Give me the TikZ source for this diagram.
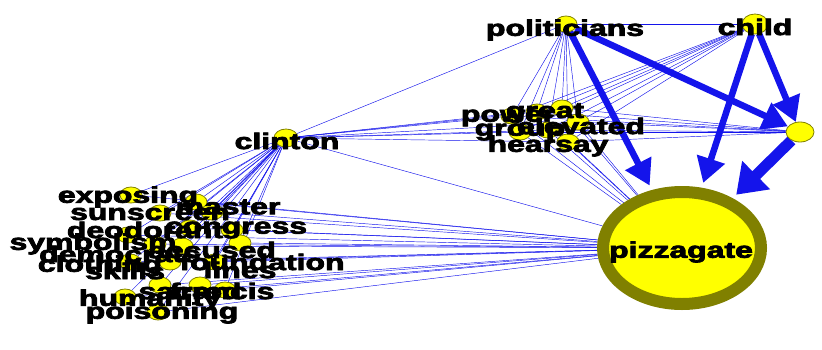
\documentclass[tikz,border=0pt]{standalone}
\usepackage{fontspec}
\setmainfont{Liberation Sans}
\newfontfamily\heavyfont{Liberation Sans Bold}[FakeBold=3]
\usetikzlibrary{shapes.geometric,arrows.meta,backgrounds}
\definecolor{edgeblue}{RGB}{20,20,235}
\definecolor{nodeyel}{RGB}{255,255,0}
\definecolor{nodeolive}{RGB}{128,128,0}
\newcommand{\hs}[1]{\scalebox{1.42}[1]{#1}}
\tikzset{
  vert/.style={ellipse,draw=nodeolive,fill=nodeyel,line width=0.8pt,minimum width=22pt,minimum height=16pt,inner sep=0pt},
  lbl/.style={font=\heavyfont\fontsize{22.5}{22.5}\selectfont,inner sep=0pt,text=black},
  fine/.style={draw=edgeblue,line width=0.45pt},
  heavy/.style={draw=edgeblue,line width=6.5pt,-{Triangle[length=25pt,width=28pt]}},
  huge/.style={draw=edgeblue,line width=11pt,-{Triangle[length=28pt,width=38pt]}}
}
\begin{document}
\begin{tikzpicture}[x=1pt,y=-1pt]
\useasboundingbox (0,0) rectangle (822,349);
% main nodes
\node[ellipse,draw=nodeolive,fill=nodeyel,line width=12pt,minimum width=158pt,minimum height=112pt,inner sep=0pt] (pizza) at (682,248) {};
\node[vert] (pol) at (566,24) {};
\node[vert,minimum width=26pt,minimum height=20pt] (child) at (755,24) {};
\node[vert,minimum width=28pt,minimum height=20pt] (u) at (800,132) {};
\node[vert,minimum width=24pt,minimum height=18pt] (clinton) at (286,138) {};
% middle cluster
\node[vert] (M1) at (512,116) {};
\node[vert] (M2) at (537,112) {};
\node[vert] (M3) at (562,108) {};
\node[vert] (M4) at (578,122) {};
\node[vert] (M5) at (548,130) {};
\node[vert] (M6) at (520,132) {};
\node[vert] (M7) at (568,142) {};
% left cluster
\node[vert] (L1) at (131,195) {};
\node[vert] (L2) at (196,202) {};
\node[vert] (L3) at (160,213) {};
\node[vert] (L4) at (212,212) {};
\node[vert] (L5) at (190,228) {};
\node[vert] (L6) at (232,230) {};
\node[vert] (L7) at (128,235) {};
\node[vert] (L8) at (155,244) {};
\node[vert] (L9) at (182,246) {};
\node[vert] (L10) at (240,243) {};
\node[vert] (L11) at (130,262) {};
\node[vert] (L12) at (170,262) {};
\node[vert] (L13) at (215,262) {};
\node[vert] (L14) at (160,285) {};
\node[vert] (L15) at (225,290) {};
\node[vert] (L16) at (125,297) {};
\node[vert] (L17) at (158,312) {};
\node[vert] (L18) at (200,285) {};
% edges
\begin{scope}[on background layer]
  \foreach \i in {1,...,18} {
    \draw[fine] (clinton) -- (L\i);
    \draw[fine] (L\i) -- (pizza);
  }
  \foreach \i in {1,...,7} {
    \draw[fine] (clinton) -- (M\i);
    \draw[fine] (pol) -- (M\i);
    \draw[fine] (child) -- (M\i);
    \draw[fine] (M\i) -- (u);
    \draw[fine] (M\i) -- (pizza);
  }
  \draw[fine] (clinton) -- (pol);
  \draw[fine] (pol) -- (child);
  \draw[fine] (clinton) -- (pizza);
  \draw[heavy,shorten >=5pt] (pol) -- (pizza);
  \draw[heavy] (pol) -- (u);
  \draw[heavy,shorten >=5pt] (child) -- (pizza);
  \draw[heavy] (child) -- (u);
  \draw[huge,shorten >=5pt] (u) -- (pizza);
\end{scope}
% labels
\node[lbl] (tpol) at (565,30) {\hs{politicians}};
\node[lbl] (tchild) at (755,27) {\hs{child}};
\node[lbl] (tpizza) at (681,252) {\hs{pizzagate}};
\node[lbl] (tclinton) at (287,141) {\hs{clinton}};
\node[lbl] (tpower) at (508,118) {\hs{power}};
\node[lbl] (tgreat) at (545,113) {\hs{great}};
\node[lbl] (televated) at (581,126) {\hs{elevated}};
\node[lbl] (tgroup) at (520,132) {\hs{group}};
\node[lbl] (thearsay) at (548,146) {\hs{hearsay}};
\node[lbl] (texposing) at (128,197) {\hs{exposing}};
\node[lbl] (tmaster) at (228,207) {\hs{master}};
\node[lbl] (tsunscreen) at (150,214) {\hs{sunscreen}};
\node[lbl] (tdeo) at (145,230) {\hs{deodorant}};
\node[lbl] (tcongress) at (236,230) {\hs{congress}};
\node[lbl] (tsymbolism) at (93,244) {\hs{symbolism}};
\node[lbl] (tdemocrats) at (120,254) {\hs{democrats}};
\node[lbl] (taccused) at (212,250) {\hs{accused}};
\node[lbl] (tfoundation) at (262,262) {\hs{foundation}};
\node[lbl] (tclothing) at (100,266) {\hs{clothing}};
\node[lbl] (tskills) at (125,271) {\hs{skills}};
\node[lbl] (tlines) at (240,270) {\hs{lines}};
\node[lbl] (tsacred) at (190,291) {\hs{sacred}};
\node[lbl] (tfrancis) at (222,291) {\hs{francis}};
\node[lbl] (thumanity) at (150,300) {\hs{humanity}};
\node[lbl] (tpoisoning) at (162,313) {\hs{poisoning}};
\end{tikzpicture}
\end{document}
